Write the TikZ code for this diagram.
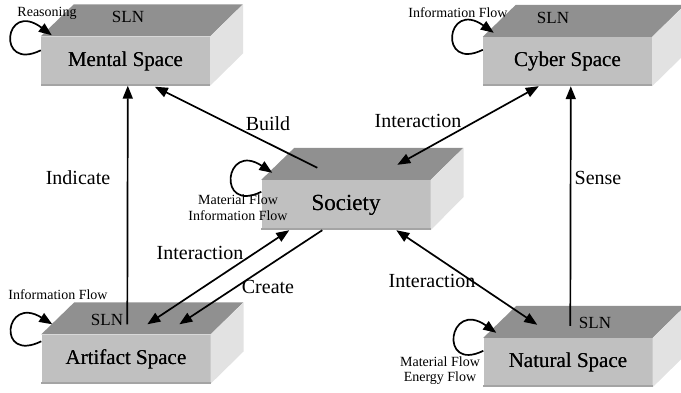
\documentclass[tikz,border=0pt]{standalone}
\usepackage{fontspec}
\setmainfont{Liberation Serif}
\usetikzlibrary{arrows.meta,calc}
\definecolor{topc}{HTML}{909090}
\definecolor{frontc}{HTML}{C0C0C0}
\definecolor{sidec}{HTML}{E2E2E2}
\definecolor{edgec}{HTML}{A4A4A4}
\tikzset{
  front/.style={fill=frontc, minimum width=169pt, minimum height=49pt, inner sep=0pt,
    font=\fontsize{21}{24}\selectfont},
  bigfront/.style={front, font=\fontsize{23}{26}\selectfont},
  topface/.style={fill=topc},
  sideface/.style={fill=sidec},
  sln/.style={font=\fontsize{17}{20}\selectfont, inner sep=0pt},
  small/.style={font=\fontsize{14}{16}\selectfont, inner sep=0pt, align=center},
  elabel/.style={font=\fontsize{20}{23}\selectfont, inner sep=0pt},
  arr/.style={line width=1.7pt, -{Triangle[length=13pt,width=10pt]}},
  darr/.style={line width=1.7pt, {Triangle[length=13pt,width=10pt]}-{Triangle[length=13pt,width=10pt]}},
  selfloop/.style={line width=1.7pt, -{Triangle[length=13pt,width=10pt]}},
}
\newcommand{\cuboidfaces}[1]{%
  \fill[topface] (#1.north west) -- ++(33,-32) -- ++(169,0) -- (#1.north east) -- cycle;
  \fill[sideface] (#1.north east) -- ++(33,-32) -- ++(0,49) -- (#1.south east) -- cycle;
  \draw[edgec, line width=2pt] ([yshift=1pt]#1.south west) -- ([yshift=1pt]#1.south east);
}
\begin{document}
\begin{tikzpicture}[x=1pt,y=-1pt]
\useasboundingbox (0,0) rectangle (681,392);

% boxes
\node[front] (mental) at (125.5,61) {Mental Space};
\node[front] (cyber) at (567.5,61.5) {Cyber Space};
\node[bigfront, minimum height=50pt] (society) at (346,205) {Society};
\node[front] (artifact) at (126,359) {Artifact Space};
\node[front] (natural) at (568,362.5) {Natural Space};

\cuboidfaces{mental}
\cuboidfaces{cyber}
\cuboidfaces{society}
\cuboidfaces{artifact}
\cuboidfaces{natural}

% redraw texts on top of faces
\node[front, fill=none] at (mental) {Mental Space};
\node[front, fill=none] at (cyber) {Cyber Space};
\node[bigfront, fill=none] at (society) {Society};
\node[front, fill=none] at (artifact) {Artifact Space};
\node[front, fill=none] at (natural) {Natural Space};

% SLN labels
\node[sln] (slnm) at (128,17) {SLN};
\node[sln] (slnc) at (553,18) {SLN};
\node[sln] (slna) at (107,320) {SLN};
\node[sln] (slnn) at (595,323) {SLN};

% self loops
\draw[selfloop] ($(mental.north west)+(0,14)$) .. controls +(-45,22) and +(-48,-36) .. ($(mental.north west)+(11,-1)$);
\draw[selfloop] ($(cyber.north west)+(0,13)$) .. controls +(-45,22) and +(-48,-34) .. ($(cyber.north west)+(11,-4)$);
\draw[selfloop] ($(society.north west)+(0,12)$) .. controls +(-45,22) and +(-48,-32) .. ($(society.north west)+(11,-7)$);
\draw[selfloop] ($(artifact.north west)+(0,7)$) .. controls +(-45,22) and +(-48,-30) .. ($(artifact.north west)+(11,-10)$);
\draw[selfloop] ($(natural.north west)+(0,13)$) .. controls +(-45,22) and +(-48,-34) .. ($(natural.north west)+(13,-5)$);

% loop labels
\node[small] (lreason) at (47,13) {Reasoning};
\node[small] (lcyber) at (458,13) {Information Flow};
\node[small] (lsoc1) at (238,200) {Material Flow};
\node[small] (lsoc2) at (238,216) {Information Flow};
\node[small] (lart) at (58,295) {Information Flow};
\node[small] (lnat1) at (440,362) {Material Flow};
\node[small] (lnat2) at (440,378) {Energy Flow};

% connectors
\draw[arr] ($(artifact.north west)+(86,-10)$) -- ($(mental.south west)+(87,0)$);
\draw[arr] ($(society.north west)+(56,-12)$) -- ($(mental.south west)+(114,1)$);
\draw[darr] ($(society.north west)+(136,-15)$) -- ($(cyber.south west)+(56,0)$);
\draw[arr] ($(natural.north west)+(87,-12)$) -- ($(cyber.south west)+(88,0)$);
\draw[darr] ($(artifact.north west)+(106,-10)$) -- ($(society.south west)+(28,0)$);
\draw[arr] ($(society.south west)+(61,0)$) -- ($(artifact.north west)+(138,-10)$);
\draw[darr] ($(society.south west)+(135,0)$) -- ($(natural.north west)+(54,-13)$);

% connector labels
\node[elabel] (tind) at (78,178) {Indicate};
\node[elabel] (tbuild) at (268,124) {Build};
\node[elabel] (tint1) at (418,121) {Interaction};
\node[elabel] (tsense) at (598,178) {Sense};
\node[elabel] (tint2) at (200,253) {Interaction};
\node[elabel] (tcreate) at (268,287) {Create};
\node[elabel] (tint3) at (432,281) {Interaction};
\end{tikzpicture}
\end{document}
